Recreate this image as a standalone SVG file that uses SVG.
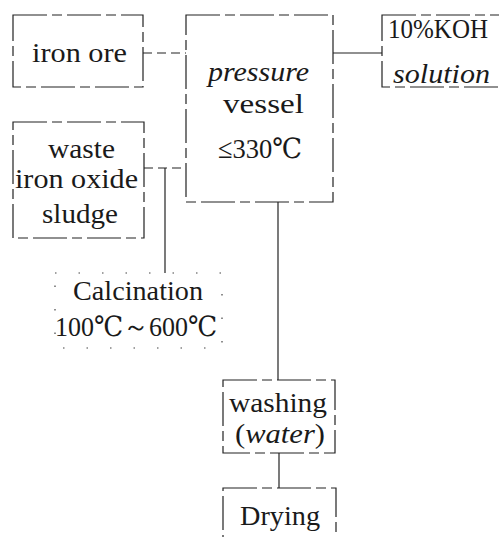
<svg xmlns="http://www.w3.org/2000/svg" width="499" height="537" viewBox="0 0 499 537">
<style>
.box{fill:none;stroke:#222;stroke-width:1.2;stroke-dasharray:34 5 10 5}
.faint{fill:none;stroke:#444;stroke-width:1.2;stroke-dasharray:1.5 22}
.ln{stroke:#222;stroke-width:1.2;fill:none}
.dash{stroke:#222;stroke-width:1.2;fill:none;stroke-dasharray:9 5}
.it{font-style:italic}
</style>
<rect width="499" height="537" fill="#fff"/>
<g id="connectors">
<line class="dash" x1="143" y1="53" x2="186" y2="53"/>
<line class="dash" x1="144" y1="168" x2="186" y2="168"/>
<line class="ln" x1="165" y1="168" x2="165" y2="273"/>
<line class="ln" x1="333" y1="53" x2="382" y2="53"/>
<line class="ln" x1="278" y1="202" x2="278" y2="380"/>
<line class="ln" x1="279" y1="453" x2="279" y2="488"/>
</g>
<g font-family="Liberation Serif, DejaVu Serif, serif" font-size="28" fill="#1a1a1a">
<g id="iron-ore">
<rect class="box" x="13" y="15" width="130" height="72"/>
<text x="32" y="62" textLength="95" lengthAdjust="spacingAndGlyphs">iron ore</text>
</g>
<g id="waste-sludge">
<rect class="box" x="13" y="122" width="131" height="116"/>
<text x="48" y="158" textLength="67" lengthAdjust="spacingAndGlyphs">waste</text>
<text x="15" y="188" textLength="123" lengthAdjust="spacingAndGlyphs">iron oxide</text>
<text x="42" y="223" textLength="76" lengthAdjust="spacingAndGlyphs">sludge</text>
</g>
<g id="pressure-vessel">
<rect class="box" x="186" y="15" width="147" height="187"/>
<text class="it" x="208" y="81" textLength="101" lengthAdjust="spacingAndGlyphs">pressure</text>
<text x="223" y="113" textLength="81" lengthAdjust="spacingAndGlyphs">vessel</text>
<text x="218" y="158" textLength="84" lengthAdjust="spacingAndGlyphs">≤330℃</text>
</g>
<g id="koh">
<rect class="box" x="382" y="15" width="130" height="72"/>
<text x="388" y="38" textLength="100" lengthAdjust="spacingAndGlyphs">10%KOH</text>
<text class="it" x="393" y="83" textLength="97" lengthAdjust="spacingAndGlyphs">solution</text>
</g>
<g id="calcination">
<rect class="faint" x="55" y="273" width="167" height="75"/>
<text x="73" y="300" textLength="130" lengthAdjust="spacingAndGlyphs">Calcination</text>
<text x="55" y="336" textLength="162" lengthAdjust="spacingAndGlyphs">100℃～600℃</text>
</g>
<g id="washing">
<rect class="box" x="223" y="380" width="112" height="73"/>
<text x="229" y="412" textLength="98" lengthAdjust="spacingAndGlyphs">washing</text>
<text x="235" y="443" textLength="90" lengthAdjust="spacingAndGlyphs">(<tspan class="it">water</tspan>)</text>
</g>
<g id="drying">
<rect class="box" x="223" y="488" width="113" height="70"/>
<text x="240" y="525" textLength="80" lengthAdjust="spacingAndGlyphs">Drying</text>
</g>
</g>
</svg>
